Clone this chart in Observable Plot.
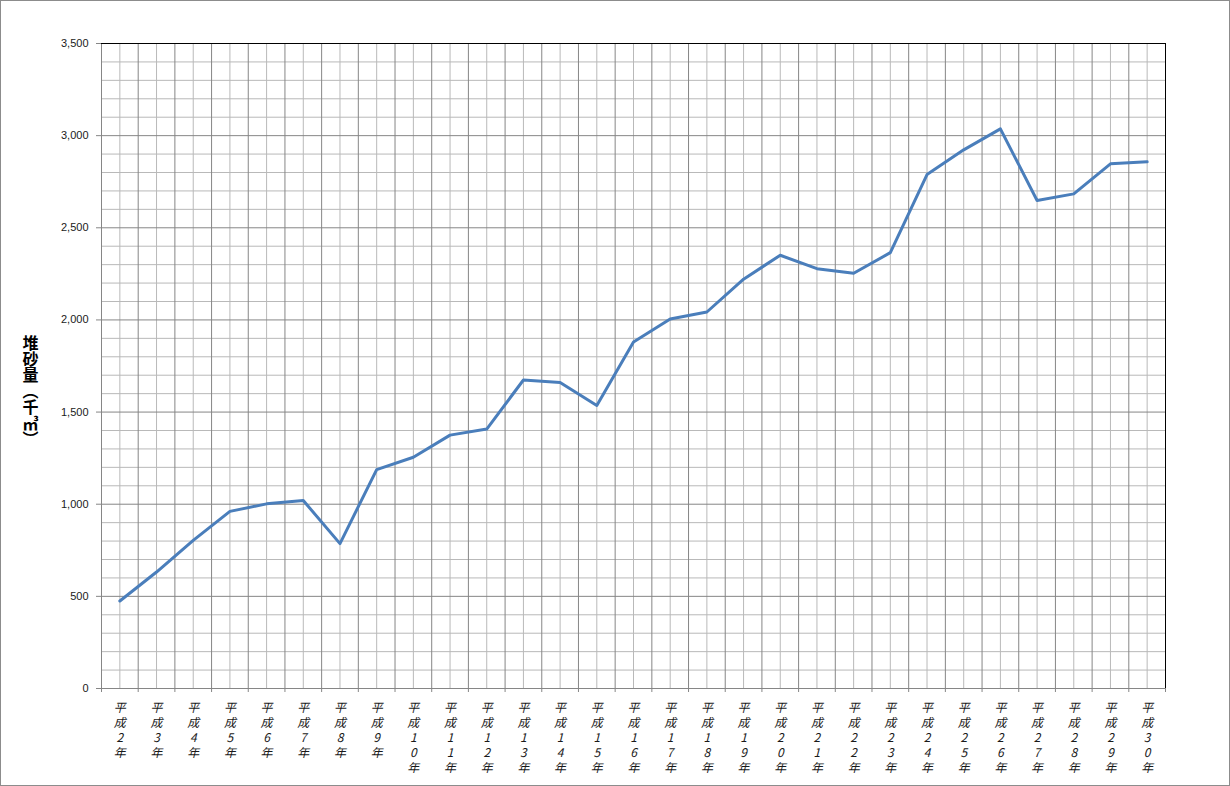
<!DOCTYPE html>
<html>
<head>
<meta charset="utf-8">
<script src="https://cdn.jsdelivr.net/npm/d3@7"></script>
<script src="https://cdn.jsdelivr.net/npm/@observablehq/plot@0.6"></script>
<style>
  html, body { margin: 0; padding: 0; background: #fff; }
  #chart { width: 1230px; height: 786px; box-sizing: border-box; border: 1px solid #8c8c8c; overflow: hidden; }
  #chart svg { display: block; }
</style>
</head>
<body>
<div id="chart"></div>
<script>
// ---- data ----
const yearLabels = ["平成2年","平成3年","平成4年","平成5年","平成6年","平成7年","平成8年","平成9年","平成10年","平成11年","平成12年","平成13年","平成14年","平成15年","平成16年","平成17年","平成18年","平成19年","平成20年","平成21年","平成22年","平成23年","平成24年","平成25年","平成26年","平成27年","平成28年","平成29年","平成30年"];
const sediment = [475, 632, 804, 961, 1002, 1020, 786, 1188, 1255, 1375, 1408, 1674, 1661, 1536, 1880, 2005, 2043, 2221, 2351, 2278, 2253, 2365, 2789, 2923, 3037, 2648, 2684, 2847, 2858];
const yTicks = [0, 500, 1000, 1500, 2000, 2500, 3000, 3500];
const yMinor = d3.range(0, 3501, 100).filter(v => v % 500 !== 0);
const yTitle = "堆砂量（千㎥）";

// ---- derived table ----
const n = yearLabels.length;
const rows = yearLabels.map((label, i) => ({pos: i + 0.5, label, value: sediment[i]}));
const bandEdges = d3.range(0, n + 1);
const bandCenters = rows.map(d => d.pos);

const major = "#868686";
const minor = "#b9b9b9";

const plot = Plot.plot({
  width: 1228,
  height: 784,
  marginLeft: 100,
  marginRight: 64,
  marginTop: 42,
  marginBottom: 97,
  x: {type: "linear", domain: [0, n], axis: null},
  y: {type: "linear", domain: [0, 3500], axis: null},
  style: {background: "#fff", overflow: "visible"},
  marks: [
    Plot.ruleY(yMinor, {stroke: minor, strokeWidth: 1}),
    Plot.ruleX(bandCenters, {stroke: minor, strokeWidth: 1}),
    Plot.ruleY(yTicks, {stroke: major, strokeWidth: 1}),
    Plot.ruleX(bandEdges, {stroke: major, strokeWidth: 1}),
    Plot.ruleY([3500], {stroke: "#000", strokeWidth: 1}),
    Plot.ruleX([n], {stroke: "#000", strokeWidth: 1}),
    Plot.axisY({
      ticks: yTicks, tickSize: 5, tickPadding: 8, label: null,
      tickFormat: d3.format(","), stroke: major, fill: "#1a1a1a",
      fontSize: 11, fontFamily: "Liberation Sans, Arial, sans-serif"
    }),
    Plot.axisX({
      ticks: bandEdges, tickSize: 4, tickFormat: () => "", label: null, stroke: major
    }),
    Plot.text(rows, {
      x: "pos",
      text: d => Array.from(d.label).join("\n"),
      frameAnchor: "bottom",
      lineAnchor: "top",
      lineHeight: 1.25,
      dy: 13,
      fontSize: 12,
      fontStyle: "italic",
      fontFamily: "Noto Sans CJK JP, sans-serif",
      fill: "#1a1a1a"
    }),
    Plot.line(rows, {x: "pos", y: "value", stroke: "#4a7ebb", strokeWidth: 3, strokeLinejoin: "round"}),
    Plot.text([yTitle], {
      frameAnchor: "left",
      dx: -71,
      dy: 20,
      fontSize: 16,
      fontWeight: "bold",
      fontFamily: "Noto Sans CJK JP, sans-serif",
      fill: "#000"
    })
  ]
});

d3.select(plot).selectAll("text")
  .filter(function() { return this.textContent === yTitle; })
  .attr("writing-mode", "tb")
  .style("writing-mode", "vertical-rl")
  .attr("text-anchor", "middle");

document.getElementById("chart").appendChild(plot);
</script>
</body>
</html>
